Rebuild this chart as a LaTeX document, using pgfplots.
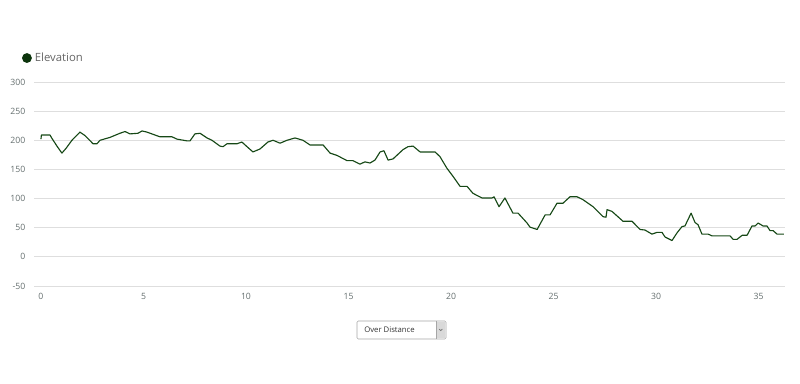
\documentclass[border=0pt]{standalone}
\usepackage{pgfplots}
\pgfplotsset{compat=1.18}
\usepackage{fontspec}
\setmainfont{Open Sans}
\definecolor{elev}{RGB}{22,72,22}
\definecolor{legdot}{RGB}{12,52,12}
\definecolor{gridc}{RGB}{222,222,222}
\definecolor{tickc}{RGB}{100,110,110}
\begin{document}
\begin{tikzpicture}[x=1pt,y=1pt]
\path[use as bounding box] (0,0) rectangle (600,288);
\begin{axis}[
  at={(25.5pt,73.5pt)}, anchor=south west,
  scale only axis, width=563.25pt, height=153pt,
  xmin=-0.34, xmax=36.29, ymin=-50, ymax=300,
  xtick={0,5,...,35}, ytick={-50,0,...,300},
  axis line style={draw=none},
  ymajorgrids, grid style={gridc, line width=0.6pt},
  major tick length=0pt,
  tick label style={font=\fontsize{6.5}{7}\selectfont, text=tickc},
  /pgf/number format/assume math mode=true,
  yticklabel style={xshift=-3pt},
  xticklabel style={yshift=-2pt},
  clip=false,
  legend style={at={(rel axis cs:0,1)}, anchor=south west, xshift=-9pt, yshift=14pt,
    draw=none, fill=none, font=\fontsize{8.5}{10}\selectfont, text=black!60,
    inner sep=0pt, outer sep=0pt,
    /tikz/every even column/.append style={column sep=0pt},
    nodes={inner sep=0pt, outer sep=0pt}},
  legend cell align=left,
  legend image code/.code={\path[draw=none,fill=none] (-3.7pt,-3.7pt) rectangle (6pt,3.7pt); \fill[legdot, draw=none] (0pt,0pt) circle (3.7pt);},
]
\addplot[elev, line width=0.85pt, line join=round] coordinates {
(0,202)(0.02,209)(0.44,209)(0.54,203)(0.78,190)(1.02,178)(1.22,186)(1.51,200)(1.90,214)(2.15,208)
(2.54,194)(2.73,194)(2.88,200)(3.37,205)(3.85,212)(4.10,215)(4.34,211)(4.73,212)(4.93,216)(5.17,214)
(5.80,206)(6.39,206)(6.63,202)(7.12,199)(7.27,199)(7.51,211)(7.76,212)(8.10,204)(8.34,200)(8.73,190)
(8.88,189)(9.07,194)(9.56,194)(9.80,197)(10.05,189)(10.34,180)(10.68,185)(11.07,197)(11.32,200)(11.66,195)
(12.00,200)(12.39,204)(12.78,200)(13.12,192)(13.76,192)(14.10,178)(14.44,174)(14.93,165)(15.22,165)(15.56,159)
(15.80,163)(16.05,161)(16.29,166)(16.54,180)(16.73,182)(16.93,166)(17.17,168)(17.66,184)(17.90,189)(18.15,190)
(18.49,180)(18.98,180)(19.22,180)(19.46,172)(19.80,152)(20.10,138)(20.44,121)(20.78,121)(21.07,109)(21.51,101)
(22.00,101)(22.10,103)(22.34,86)(22.63,101)(23.02,75)(23.27,75)(23.71,58)(23.85,51)(24.20,47)(24.59,72)
(24.83,72)(25.17,92)(25.46,92)(25.80,103)(26.15,103)(26.44,98)(26.93,86)(27.41,69)(27.56,68)(27.61,81)
(27.85,78)(28.39,61)(28.83,61)(29.22,47)(29.46,46)(29.80,39)(30.05,42)(30.29,42)(30.44,34)(30.78,28)
(31.02,41)(31.27,52)(31.41,53)(31.71,75)(31.90,59)(32.05,55)(32.24,39)(32.54,39)(32.73,36)(33.61,36)
(33.76,30)(33.95,30)(34.20,37)(34.44,37)(34.68,53)(34.83,53)(34.98,58)(35.22,53)(35.41,53)(35.56,45)
(35.71,45)(35.90,39)(36.24,39)
};
\addlegendentry{Elevation}
\end{axis}
% dropdown control
\draw[black!35, fill=white, rounded corners=1pt] (267.75,33.75) rectangle (334.5,47.25);
\fill[black!15] (327,34.2) rectangle (334.1,46.8);
\draw[black!35] (327,33.75) -- (327,47.25);
\draw[black!55, line width=0.5pt] (329.4,41.2) -- (330.6,40.0) -- (331.8,41.2);
\node[anchor=west, inner sep=0pt, font=\fontsize{5.8}{7}\selectfont, text=black!80] at (273,40.5) {Over Distance};
\end{tikzpicture}
\end{document}
